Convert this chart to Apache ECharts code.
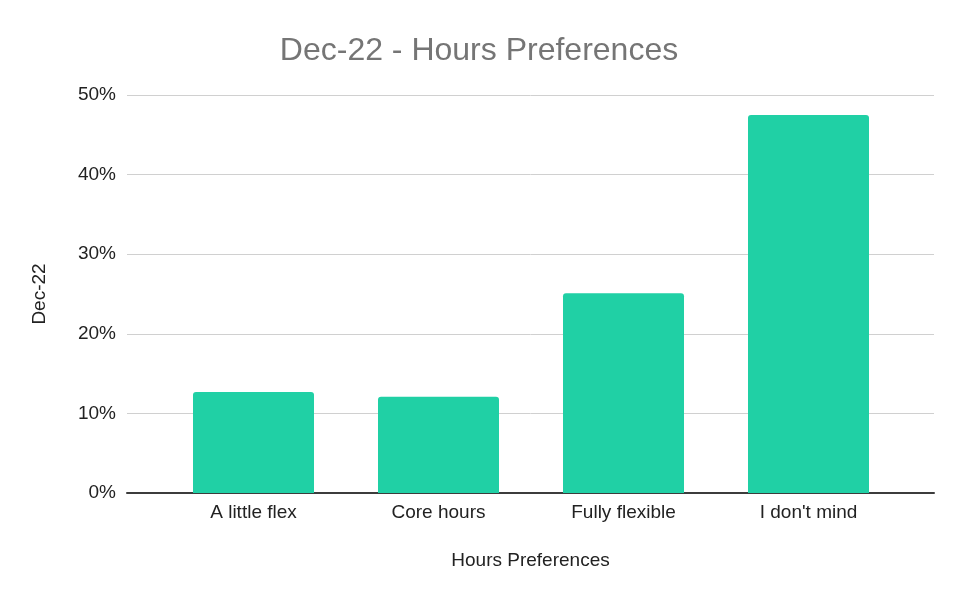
<!DOCTYPE html>
<html>
<head>
<meta charset="utf-8">
<script src="https://cdn.jsdelivr.net/npm/echarts@6/dist/echarts.min.js"></script>
<style>
html,body{margin:0;padding:0;background:#fff;}
#chart{width:958px;height:616px;}
</style>
</head>
<body>
<div id="chart"></div>
<script>
const categories = ["A little flex", "Core hours", "Fully flexible", "I don't mind"];
const values = [12.7, 12.1, 25.1, 47.5];
const yTicks = [0, 10, 20, 30, 40, 50];
const titleText = "Dec-22 - Hours Preferences";
const xAxisTitle = "Hours Preferences";
const yAxisTitle = "Dec-22";

const FONT = "Liberation Sans, Arial, sans-serif";
const chart = echarts.init(document.getElementById('chart'), null, {renderer: 'canvas'});
const option = {
  animation: false,
  backgroundColor: '#ffffff',
  title: {
    text: titleText,
    left: 'center',
    top: 30,
    textStyle: {color: '#757575', fontSize: 32, fontWeight: 'normal', fontFamily: FONT}
  },
  grid: [
    {left: 127, right: 24, top: 95, bottom: 123},
    {left: 161, right: 57, top: 95, bottom: 123}
  ],
  xAxis: [
    {
      type: 'category', gridIndex: 0, data: [''],
      axisLine: {show: true, lineStyle: {color: '#3c3c3c', width: 2}},
      axisTick: {show: false}, axisLabel: {show: false},
      name: xAxisTitle, nameLocation: 'middle', nameGap: 58,
      nameTextStyle: {color: '#222', fontSize: 19, fontFamily: FONT}
    },
    {
      type: 'category', gridIndex: 1, data: categories,
      axisLine: {show: false}, axisTick: {show: false},
      axisLabel: {color: '#222', fontSize: 19, fontFamily: FONT, margin: 10}
    }
  ],
  yAxis: [
    {
      type: 'value', gridIndex: 0, min: yTicks[0], max: yTicks[yTicks.length - 1], interval: 10,
      axisLine: {show: false}, axisTick: {show: false},
      splitLine: {lineStyle: {color: '#d0d0d0', width: 1}},
      axisLabel: {color: '#222', fontSize: 19, fontFamily: FONT, margin: 11, padding: [4, 0, 0, 0], formatter: v => v + '%'},
      name: yAxisTitle, nameLocation: 'middle', nameGap: 78, nameRotate: 90,
      nameTextStyle: {color: '#222', fontSize: 19, fontFamily: FONT}
    },
    {
      type: 'value', gridIndex: 1, min: yTicks[0], max: yTicks[yTicks.length - 1], interval: 10,
      show: false, splitLine: {show: false}
    }
  ],
  series: [{
    type: 'bar', xAxisIndex: 1, yAxisIndex: 1,
    data: values,
    barWidth: 121,
    itemStyle: {color: '#20d0a5', borderRadius: [3, 3, 0, 0]},
    z: 1
  }]
};
chart.setOption(option);
</script>
</body>
</html>
